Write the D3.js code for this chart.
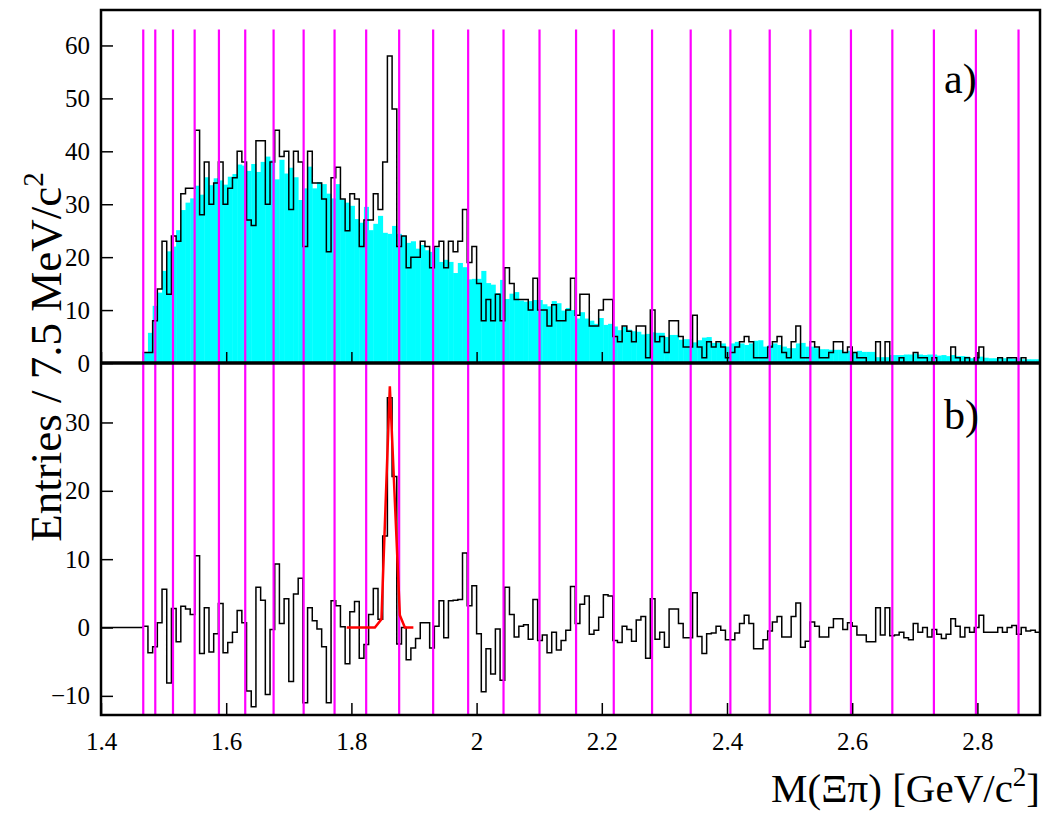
<!DOCTYPE html>
<html>
<head>
<meta charset="utf-8">
<script src="https://cdn.jsdelivr.net/npm/d3@7"></script>
<style>
  body { margin: 0; background: #fff; }
  text { font-family: "Liberation Serif", "Times New Roman", serif; }
</style>
</head>
<body>
<div id="chart"></div>
<script>
// histogram binning: 200 bins of 7.5 MeV starting at 1.4 GeV
var binLo = 1.4, binW = 0.0075;

// a) data (black) per bin
var dataTop = [
  0,0,0,0,0,0,0,0,0,2,
  2,8,14,23,13,24,23,32,33,33,
  44,28,38,30,34,38,30,33,35,40,
  38,27,26,42,42,30,38,44,39,40,
  29,40,38,22,40,34,34,31,21,35,
  37,31,25,32,31,22,27,27,32,29,
  38,58,48,22,24,18,20,20,23,22,
  18,22,23,18,23,21,23,29,19,22,
  15,8,12,8,13,8,18,15,12,12,
  12,10,16,10,10,7,11,8,8,10,
  16,9,13,13,7,7,10,12,12,5,
  4,7,6,4,7,7,1,10,4,5,
  2,8,8,5,3,3,9,3,1,4,
  3,4,3,1,2,3,4,5,4,1,
  1,1,3,4,5,2,1,4,7,1,
  1,4,3,1,1,2,4,4,2,3,
  2,1,1,0,0,4,0,4,0,0,
  1,0,0,2,1,1,0,1,0,0,
  0,3,1,0,1,0,1,3,0,0,
  0,1,0,1,1,0,1,0,0,0
];

// a) background estimate (cyan) per bin
var bkgTop = [
  0,0,0,0,0,0,0,0,0,2,
  5.7,10.8,13.3,17.4,21.1,22,25.1,28.9,30.3,31.1,
  33.5,31.8,35.1,33.6,34.9,34.5,33.7,35.2,35.7,37.5,
  37.3,36.3,37.6,36.1,38,39,38.3,34.7,38.4,35.8,
  36.9,35.1,30.8,33,37.1,33,34.2,33.8,32,31.1,
  33.8,30.9,30.3,29.7,27.2,26.5,29.5,25.1,26.3,27.8,
  24.6,24.4,25.9,24.4,24,22.7,23,21.6,22.3,21.3,
  21,21.8,19.1,19.5,19.1,17,18.9,18.1,15.8,15.9,
  15.9,17.4,15.1,14.8,13.2,15.7,12.1,13.1,13.4,11.8,
  11.6,11.7,11.9,11.9,11.1,10.7,11.7,11.3,9.9,10.4,
  10,8.4,9.6,8.4,8,7.4,8.5,7.2,7.4,6.9,
  6.2,6.8,6.3,6,5.9,5.4,5.5,5.8,5.7,5.7,
  4.9,5.3,5.3,4.4,4.5,4.5,3.9,4.3,4.8,4.9,
  3.8,3.8,3.7,3.1,3.7,4.0,3.7,3.4,3.7,4.2,
  4.3,3.1,3.4,3.7,3.4,3.1,2.8,2.8,3.7,3.8,
  3.1,3.1,2.8,2.6,2.6,2.5,2.5,2.5,2.1,2.3,
  2.1,2.3,2.1,2.1,2.1,1.1,1.1,1.1,1.5,1.5,
  1.5,1.6,1.6,1.8,1.6,1.5,1.6,1.6,1.4,1.5,
  1.3,1.5,1.3,1.3,1.2,0.9,0.9,1.2,1.0,0.9,
  0.9,0.9,0.9,0.9,0.8,1.0,0.7,0.7,0.7,0.7
];

// b) background subtracted per bin
var diffBot = [
  0,0,0,0,0,0,0,0,0,0.2,
  -3.7,-2.8,0.7,5.6,-8.1,2.8,-2.1,3.1,2.7,1.9,
  10.5,-3.8,2.9,-3.6,-0.9,3.5,-3.7,-2.2,-0.7,2.5,
  0.7,-9.3,-11.6,5.9,4.0,-9.8,-0.3,9.3,0.6,4.2,
  -7.9,4.9,7.2,-11,2.9,1,-0.2,-2.8,-11,3.9,
  3.2,0.1,-5.3,2.3,3.8,-4.5,-2.5,1.9,5.7,1.2,
  13.4,33.6,22.1,-2.4,0,-4.7,-3,-1.6,0.7,0.7,
  -3,0.2,3.9,-1.5,3.9,4,4.1,10.9,3.2,6.1,
  -0.9,-9.4,-3.1,-6.8,-0.2,-7.7,5.9,1.9,-1.4,0.2,
  0.4,-1.7,4.1,-1.9,-1.1,-3.7,-0.7,-3.3,-1.9,-0.4,
  6,0.6,3.4,4.6,-1,-0.4,1.5,4.8,4.6,-1.9,
  -2.2,0.2,-0.3,-2,1.1,1.6,-4.5,4.2,-1.7,-0.7,
  -2.9,2.7,2.7,0.6,-1.5,-1.5,5.1,-1.3,-3.8,-0.9,
  -0.8,0.2,-0.4,-1.8,-1.8,-0.8,0.6,1.8,0.6,-3.1,
  -3.1,-1.8,-0.5,0.8,1.6,-1.4,-1.4,1.6,3.6,-2.9,
  -2,0.8,0.2,-1.4,-1.4,0,1.3,1.3,-0.3,0.7,
  0.2,-1.1,-1.1,-2.1,-2.1,2.9,-1.1,2.9,-1.2,-1.1,
  -0.7,-1.5,-1.8,0.6,-0.7,0,-1.4,-0.3,-1,-1.6,
  -1,1.3,0.2,-1.4,0,-0.7,0,1.8,-0.7,-0.7,
  -0.7,0,-0.7,0,0.3,-1,0,-0.5,-0.4,-0.7
];

// magenta marker positions (GeV/c^2)
var markX = [1.4675, 1.4867, 1.515, 1.5496, 1.5884, 1.6304, 1.6757, 1.7237, 1.7731,
  1.8236, 1.8763, 1.9306, 1.9865, 2.043, 2.1005, 2.1589, 2.2191, 2.2803, 2.342,
  2.4054, 2.4682, 2.5332, 2.598, 2.6641, 2.7305, 2.7976, 2.8657];
var markTop = 63;

// fit curve in b)
var fitX = [1.7925, 1.8375, 1.848, 1.8614, 1.8774, 1.8854, 1.899];
var fitY = [0, 0, 1.2, 35.3, 1.8, 0, 0];

var xTicks = [1.4, 1.6, 1.8, 2.0, 2.2, 2.4, 2.6, 2.8];
var yTicksTop = [0, 10, 20, 30, 40, 50, 60];
var yTicksBot = [-10, 0, 10, 20, 30];

var width = 1042, height = 813;
var plotL = 101, plotR = 1040, plotT = 10, plotM = 363, plotB = 715;

var x = d3.scaleLinear().domain([1.4, 2.9]).range([plotL, plotR]);
var yTop = d3.scaleLinear().domain([0, 66.7]).range([plotM, plotT]);
var yBot = d3.scaleLinear().domain([-12.8, 38.7]).range([plotB, plotM]);

var svg = d3.select("#chart").append("svg")
  .attr("width", width)
  .attr("height", height);

function stepPoints(vals) {
  var pts = vals.map(function(v, i) { return [binLo + i * binW, v]; });
  pts.push([binLo + vals.length * binW, vals[vals.length - 1]]);
  return pts;
}

// cyan background bars
svg.append("g")
  .selectAll("rect")
  .data(bkgTop)
  .enter().append("rect")
  .attr("x", function(d, i) { return x(binLo + i * binW); })
  .attr("width", function(d, i) { return x(binLo + (i + 1) * binW) - x(binLo + i * binW) + 0.4; })
  .attr("y", function(d) { return yTop(d); })
  .attr("height", function(d) { return yTop(0) - yTop(d); })
  .attr("fill", "#00ffff");

// black data histogram (top)
svg.append("path")
  .datum(stepPoints(dataTop))
  .attr("fill", "none")
  .attr("stroke", "#000")
  .attr("stroke-width", 1.5)
  .attr("d", d3.line().x(function(d) { return x(d[0]); }).y(function(d) { return yTop(d[1]); }).curve(d3.curveStepAfter));

// black subtracted histogram (bottom)
svg.append("path")
  .datum(stepPoints(diffBot))
  .attr("fill", "none")
  .attr("stroke", "#000")
  .attr("stroke-width", 1.5)
  .attr("d", d3.line().x(function(d) { return x(d[0]); }).y(function(d) { return yBot(d[1]); }).curve(d3.curveStepAfter));

// magenta lines
svg.append("g")
  .selectAll("line")
  .data(markX)
  .enter().append("line")
  .attr("x1", function(d) { return x(d); })
  .attr("x2", function(d) { return x(d); })
  .attr("y1", yTop(markTop))
  .attr("y2", plotB)
  .attr("stroke", "#ff00ff")
  .attr("stroke-width", 2.2);

// red fit
svg.append("path")
  .datum(fitX.map(function(d, i) { return [d, fitY[i]]; }))
  .attr("fill", "none")
  .attr("stroke", "#ff0000")
  .attr("stroke-width", 2.5)
  .attr("d", d3.line().x(function(d) { return x(d[0]); }).y(function(d) { return yBot(d[1]); }));

// axes
function styleAxis(g) {
  g.attr("font-family", null);
  g.select(".domain").remove();
  g.selectAll("line").attr("stroke", "#000").attr("stroke-width", 1.5);
  g.selectAll("text")
    .style("font-family", "'Liberation Serif', serif")
    .style("font-size", "25px")
    .attr("fill", "#000");
}

svg.append("g")
  .attr("transform", "translate(" + plotL + ",0)")
  .call(d3.axisLeft(yTop).tickValues(yTicksTop).tickSize(-12).tickPadding(11))
  .call(styleAxis);

svg.append("g")
  .attr("transform", "translate(" + plotL + ",0)")
  .call(d3.axisLeft(yBot).tickValues(yTicksBot).tickSize(-12).tickPadding(11))
  .call(styleAxis);

svg.append("g")
  .attr("transform", "translate(0," + plotM + ")")
  .call(d3.axisBottom(x).tickValues(xTicks).tickSize(-11).tickFormat(""))
  .call(styleAxis);

svg.append("g")
  .attr("transform", "translate(0," + plotB + ")")
  .call(d3.axisBottom(x).tickValues(xTicks).tickSize(-12).tickPadding(17).tickFormat(d3.format("~g")))
  .call(styleAxis);

// frame
svg.append("rect")
  .attr("x", plotL).attr("y", plotT)
  .attr("width", plotR - plotL).attr("height", plotB - plotT)
  .attr("fill", "none").attr("stroke", "#000").attr("stroke-width", 2.5);
svg.append("line")
  .attr("x1", plotL).attr("x2", plotR)
  .attr("y1", plotM).attr("y2", plotM)
  .attr("stroke", "#000").attr("stroke-width", 3.5);

// panel labels
svg.append("text").attr("x", 944).attr("y", 93).attr("font-size", 42).text("a)");
svg.append("text").attr("x", 944).attr("y", 429).attr("font-size", 42).text("b)");

// axis titles
var yt = svg.append("text")
  .attr("transform", "translate(61,357) rotate(-90)")
  .attr("text-anchor", "middle")
  .attr("font-size", 45);
yt.append("tspan").text("Entries / 7.5 MeV/c");
yt.append("tspan").attr("font-size", 29).attr("dy", -18).text("2");

var xt = svg.append("text")
  .attr("x", 1040).attr("y", 802)
  .attr("text-anchor", "end")
  .attr("font-size", 41);
xt.append("tspan").text("M(\u039E\u03C0) [GeV/c");
xt.append("tspan").attr("font-size", 27).attr("dy", -16).text("2");
xt.append("tspan").attr("dy", 16).text("]");
</script>
</body>
</html>
